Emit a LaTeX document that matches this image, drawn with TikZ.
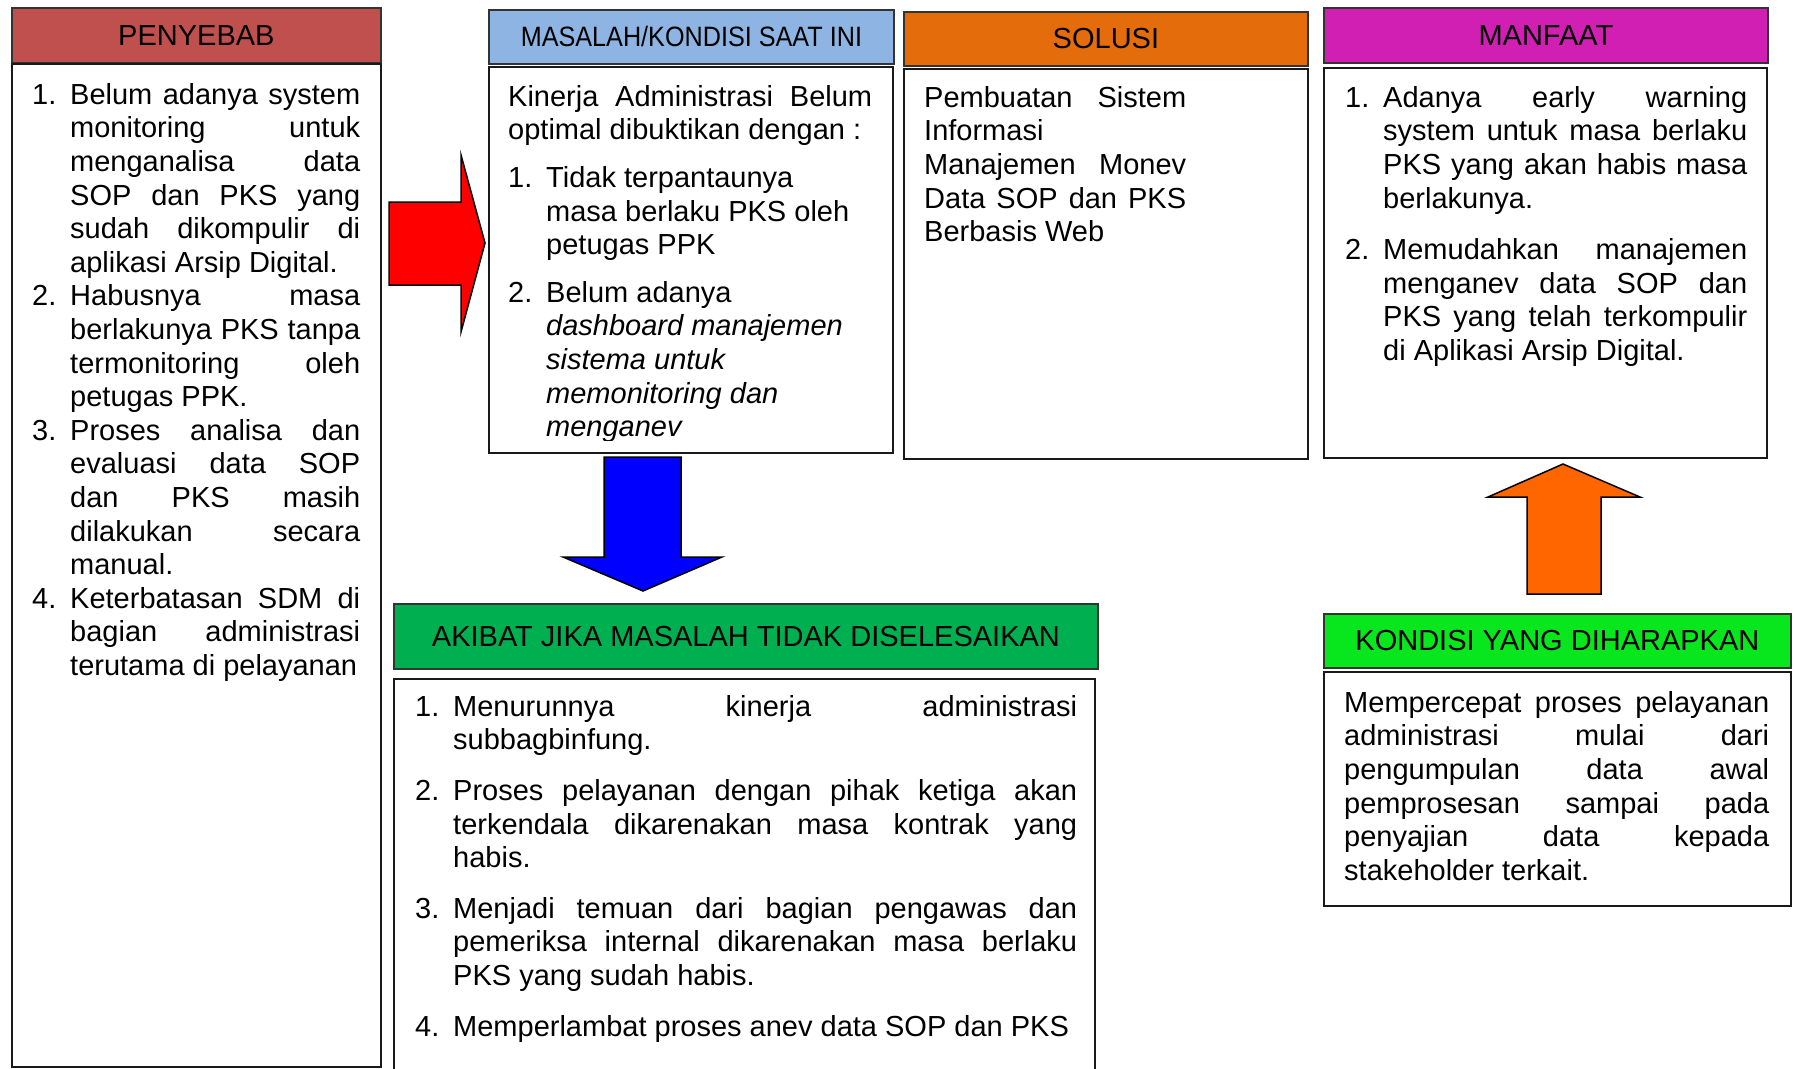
\documentclass[tikz,border=0pt]{standalone}
\usepackage{fontspec}
\setmainfont{Liberation Sans}
\newfontfamily\sempit[FakeStretch=0.9]{Liberation Sans}
\usepackage{tikz}

\definecolor{merahkop}{RGB}{192,80,77}
\definecolor{birukop}{RGB}{141,180,226}
\definecolor{oranyekop}{RGB}{228,108,10}
\definecolor{ungukop}{RGB}{209,31,180}
\definecolor{hijaukop}{RGB}{0,176,80}
\definecolor{hijaukondisi}{RGB}{8,230,30}
\definecolor{oranyepanah}{RGB}{255,102,0}

\tolerance=10000
\hbadness=10000
\hyphenpenalty=10000
\newlength\butirjarak
\setlength\butirjarak{38pt}
\newcommand\butir[2]{\hangindent=\butirjarak\hangafter=1\noindent\makebox[\butirjarak][l]{#1.}#2\par}
\newcommand\isi{\fontsize{29}{33.6}\selectfont}
\newcommand\judul{\fontsize{29}{34}\selectfont}

\begin{document}
\begin{tikzpicture}[x=1pt, y=-1pt,
  kop/.style={draw=black!80, line width=1.8pt, anchor=north west, inner sep=0pt, font=\judul},
  kotak/.style={draw=black!90, line width=1.6pt, anchor=north west, inner sep=0pt},
  teks/.style={anchor=north west, inner sep=0pt, align=justify, font=\isi},
  panah/.style={draw=black, line width=1.5pt}]
\useasboundingbox (0,0) rectangle (1795,1068);
\clip (0,0) rectangle (1795,1068);

% penyebab
\node[kop, fill=merahkop, minimum width=369pt, minimum height=55pt] (penyebab) at (11,7) {PENYEBAB};
\node[kotak, minimum width=369pt, minimum height=1003pt] (penyebabIsi) at (11,63) {};
\node[teks, text width=328pt] (penyebabTeks) at (32,83) {%
\butir{1}{Belum adanya system\linebreak monitoring untuk\linebreak menganalisa data\linebreak SOP dan PKS yang\linebreak sudah dikompulir di\linebreak aplikasi Arsip Digital.}
\butir{2}{Habusnya masa\linebreak berlakunya PKS tanpa\linebreak termonitoring oleh\linebreak petugas PPK.}
\butir{3}{Proses analisa dan\linebreak evaluasi data SOP\linebreak dan PKS masih\linebreak dilakukan secara\linebreak manual.}
\butir{4}{Keterbatasan SDM di\linebreak bagian administrasi\linebreak terutama di pelayanan}};

% masalah
\node[kop, fill=birukop, minimum width=405pt, minimum height=54pt, font={\sempit\fontsize{28}{32}\selectfont}] (masalah) at (488,9) {MASALAH/KONDISI SAAT INI};
\node[kotak, minimum width=404pt, minimum height=386pt] (masalahIsi) at (488,66) {};
\begin{scope}
\clip (488,66) rectangle (892,440);
\node[teks, text width=364pt] (masalahTeks) at (508,85) {\setlength\parskip{14pt}%
Kinerja Administrasi Belum\linebreak optimal dibuktikan dengan :\par\raggedright
\butir{1}{Tidak terpantaunya\linebreak masa berlaku PKS oleh\linebreak petugas PPK}
\butir{2}{Belum adanya\linebreak \textit{dashboard manajemen\linebreak sistema untuk\linebreak memonitoring dan\linebreak menganev}}};
\end{scope}

% solusi
\node[kop, fill=oranyekop, minimum width=404pt, minimum height=54pt] (solusi) at (903,11) {SOLUSI};
\node[kotak, minimum width=404pt, minimum height=390pt] (solusiIsi) at (903,68) {};
\node[teks, text width=262pt] (solusiTeks) at (924,86) {Pembuatan Sistem\linebreak Informasi\linebreak Manajemen Monev\linebreak Data SOP dan PKS\linebreak Berbasis Web};

% manfaat
\node[kop, fill=ungukop, minimum width=444pt, minimum height=55pt] (manfaat) at (1323,7) {MANFAAT};
\node[kotak, minimum width=443pt, minimum height=390pt] (manfaatIsi) at (1323,67) {};
\node[teks, text width=402pt] (manfaatTeks) at (1345,86) {\setlength\parskip{18pt}%
\butir{1}{Adanya early warning\linebreak system untuk masa berlaku\linebreak PKS yang akan habis masa\linebreak berlakunya.}
\butir{2}{Memudahkan manajemen\linebreak menganev data SOP dan\linebreak PKS yang telah terkompulir\linebreak di Aplikasi Arsip Digital.}};

% akibat
\node[kop, fill=hijaukop, minimum width=704pt, minimum height=65pt] (akibat) at (393,603) {AKIBAT JIKA MASALAH TIDAK DISELESAIKAN};
\node[kotak, minimum width=701pt, minimum height=420pt] (akibatIsi) at (393,678) {};
\node[teks, text width=662pt] (akibatTeks) at (415,695) {\setlength\parskip{17pt}%
\butir{1}{Menurunnya kinerja administrasi\linebreak subbagbinfung.}
\butir{2}{Proses pelayanan dengan pihak ketiga akan\linebreak terkendala dikarenakan masa kontrak yang\linebreak habis.}
\butir{3}{Menjadi temuan dari bagian pengawas dan\linebreak pemeriksa internal dikarenakan masa berlaku\linebreak PKS yang sudah habis.}
\butir{4}{Memperlambat proses anev data SOP dan PKS}};

% kondisi
\node[kop, fill=hijaukondisi, minimum width=467pt, minimum height=54pt] (kondisi) at (1323,613) {KONDISI YANG DIHARAPKAN};
\node[kotak, minimum width=467pt, minimum height=234pt] (kondisiIsi) at (1323,671) {};
\node[teks, text width=425pt] (kondisiTeks) at (1344,691) {Mempercepat proses pelayanan\linebreak administrasi mulai dari\linebreak pengumpulan data awal\linebreak pemprosesan sampai pada\linebreak penyajian data kepada\linebreak stakeholder terkait.};

% panah
\draw[panah, fill=red] (389,202) -- (461,202) -- (461,155) -- (485,243) -- (461,332) -- (461,285) -- (389,285) -- cycle;
\draw[panah, fill=blue] (604,457) -- (681,457) -- (681,557) -- (722,557) -- (643,591) -- (563,557) -- (604,557) -- cycle;
\draw[panah, fill=oranyepanah] (1527,594) -- (1601,594) -- (1601,497) -- (1640,497) -- (1563,464) -- (1488,497) -- (1527,497) -- cycle;
\end{tikzpicture}
\end{document}
